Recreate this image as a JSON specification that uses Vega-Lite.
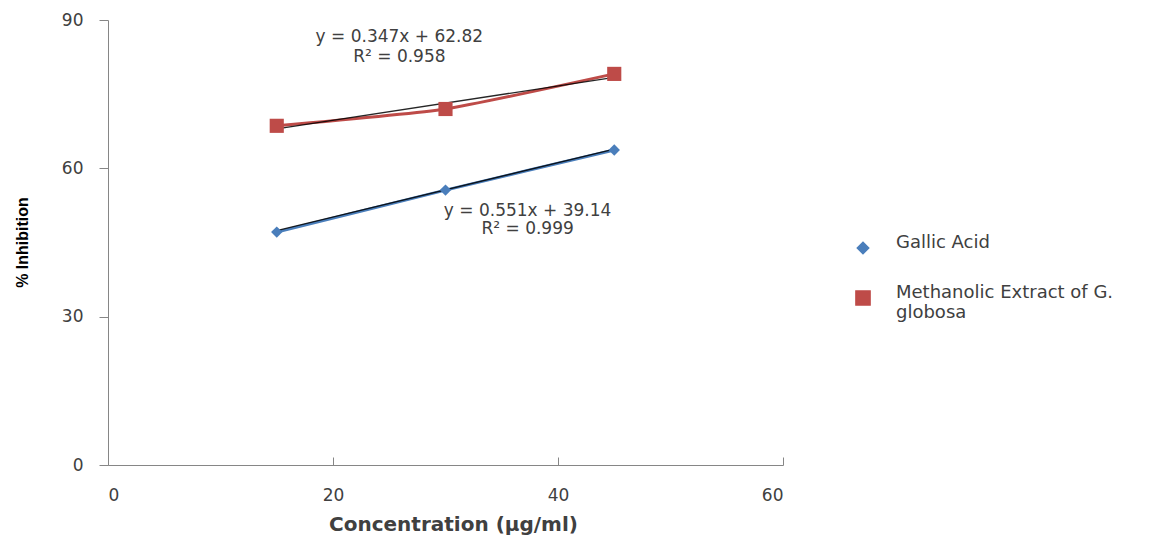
{
  "$schema": "https://vega.github.io/schema/vega-lite/v6.json",
  "width": 675,
  "height": 445,
  "autosize": "none",
  "padding": {"left": 108, "top": 20, "right": 374, "bottom": 73},
  "background": "white",
  "config": {
    "view": {"stroke": null},
    "font": "DejaVu Sans",
    "axis": {
      "domainColor": "#868686",
      "tickColor": "#868686",
      "labelColor": "#404040",
      "labelFont": "DejaVu Sans",
      "labelFontSize": 17,
      "grid": false,
      "titleColor": "#404040"
    }
  },
  "datasets": {
    "series": [
      {"series": "Gallic Acid", "conc": 15, "inh": 47.1},
      {"series": "Gallic Acid", "conc": 30, "inh": 55.6},
      {"series": "Gallic Acid", "conc": 45, "inh": 63.7},
      {"series": "Methanolic Extract of G. globosa", "conc": 15, "inh": 68.6},
      {"series": "Methanolic Extract of G. globosa", "conc": 30, "inh": 72.0},
      {"series": "Methanolic Extract of G. globosa", "conc": 45, "inh": 79.1}
    ],
    "trend": [
      {"series": "Gallic Acid", "conc": 15, "inh": 47.4},
      {"series": "Gallic Acid", "conc": 45, "inh": 63.9},
      {"series": "Methanolic Extract of G. globosa", "conc": 15, "inh": 68.0},
      {"series": "Methanolic Extract of G. globosa", "conc": 45, "inh": 78.4}
    ],
    "labels": [
      {"conc": 25.9, "inh": 86.6, "text": "y = 0.347x + 62.82"},
      {"conc": 25.9, "inh": 82.5, "text": "R² = 0.958"},
      {"conc": 37.3, "inh": 51.4, "text": "y = 0.551x + 39.14"},
      {"conc": 37.3, "inh": 47.7, "text": "R² = 0.999"}
    ]
  },
  "encoding": {
    "x": {
      "field": "conc",
      "type": "quantitative",
      "scale": {"domain": [0, 60], "nice": false, "zero": false},
      "axis": {
        "values": [0, 20, 40, 60],
        "tickSize": -8,
        "labelPadding": 30,
        "title": "Concentration (µg/ml)",
        "titleFont": "DejaVu Sans",
        "titleFontSize": 20,
        "titleFontWeight": "bold",
        "titleX": 345,
        "titleY": 59,
        "titleBaseline": "middle",
        "titleAnchor": "middle",
        "titleAlign": "center"
      }
    },
    "y": {
      "field": "inh",
      "type": "quantitative",
      "scale": {"domain": [0, 90], "nice": false},
      "axis": {
        "values": [0, 30, 60, 90],
        "tickSize": 9,
        "labelPadding": 16,
        "title": "% Inhibition",
        "titleFont": "Liberation Sans",
        "titleFontSize": 16,
        "titleFontWeight": "bold",
        "titleColor": "#000000",
        "titleAngle": -90,
        "titleX": -86,
        "titleY": 222,
        "titleAlign": "center",
        "titleBaseline": "middle"
      }
    }
  },
  "layer": [
    {
      "data": {"name": "series"},
      "mark": {"type": "line", "strokeWidth": 3, "interpolate": "cardinal", "tension": 0.5},
      "encoding": {
        "color": {"field": "series", "type": "nominal",
          "scale": {"domain": ["Gallic Acid", "Methanolic Extract of G. globosa"], "range": ["#4A7EBB", "#BE4B48"]}},
        "detail": {"field": "series"}
      }
    },
    {
      "data": {"name": "trend"},
      "mark": {"type": "line", "strokeWidth": 1.3, "color": "#000000", "opacity": 0.85},
      "encoding": {"detail": {"field": "series"}}
    },
    {
      "data": {"name": "series"},
      "mark": {"type": "point", "filled": true, "opacity": 1},
      "encoding": {
        "color": {"field": "series", "type": "nominal",
          "scale": {"domain": ["Gallic Acid", "Methanolic Extract of G. globosa"], "range": ["#4A7EBB", "#BE4B48"]},
          "legend": {
            "title": null,
            "orient": "none",
            "legendX": 746,
            "legendY": 219,
            "padding": 0,
            "labelFont": "DejaVu Sans",
            "labelFontSize": 18,
            "labelColor": "#404040",
            "labelOffset": 24,
            "labelLimit": 400,
            "labelBaseline": "alphabetic",
            "rowPadding": 27,
            "labelExpr": "datum.label == 'Methanolic Extract of G. globosa' ? ['Methanolic Extract of G.', 'globosa'] : datum.label"
          }
        },
        "shape": {"field": "series", "type": "nominal",
          "scale": {"domain": ["Gallic Acid", "Methanolic Extract of G. globosa"], "range": ["diamond", "square"]}},
        "size": {"field": "series", "type": "nominal", "legend": null,
          "scale": {"domain": ["Gallic Acid", "Methanolic Extract of G. globosa"], "range": [130, 200]}}
      }
    },
    {
      "data": {"name": "labels"},
      "mark": {"type": "text", "font": "DejaVu Sans", "fontSize": 17, "color": "#404040", "align": "center", "baseline": "middle"},
      "encoding": {"text": {"field": "text"}}
    }
  ]
}
